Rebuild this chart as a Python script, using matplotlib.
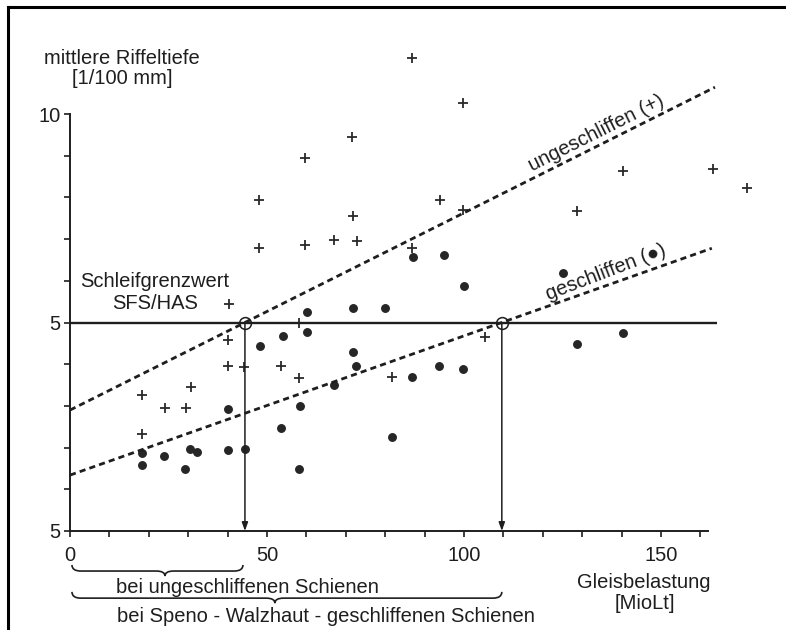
import matplotlib
matplotlib.use("Agg")
import matplotlib.pyplot as plt
from matplotlib.path import Path
from matplotlib.patches import PathPatch
from matplotlib.lines import Line2D
import matplotlib.transforms as mtransforms

# ---------------- data ----------------
# ungeschliffen (+)
plus_x = [86.8, 99.7, 71.6, 59.6, 48.0, 93.9, 99.7, 71.8, 48.0, 59.6, 67.0, 72.8,
          86.8, 140.4, 163.2, 171.8, 128.7, 40.4, 40.1, 40.1, 44.2, 30.7, 18.3,
          24.1, 29.4, 18.3, 58.1, 53.6, 58.1, 81.7, 105.3]
plus_y = [11.34, 10.26, 9.45, 8.94, 7.94, 7.94, 7.70, 7.55, 6.79, 6.86, 6.98, 6.95,
          6.79, 8.63, 8.68, 8.23, 7.67, 5.44, 4.58, 3.96, 3.93, 3.45, 3.26,
          2.95, 2.95, 2.33, 4.99, 3.96, 3.67, 3.69, 4.65]
# geschliffen (•)
dot_x = [48.2, 54.1, 60.2, 71.8, 72.6, 67.0, 58.4, 53.6, 81.7, 58.1, 40.1, 18.3,
         18.3, 23.9, 30.5, 32.2, 40.1, 44.4, 29.2, 87.1, 94.9, 100.0, 60.2, 71.8,
         79.9, 86.8, 93.7, 99.7, 125.1, 128.7, 140.4]
dot_y = [4.44, 4.68, 4.77, 4.29, 3.96, 3.50, 3.00, 2.47, 2.25, 1.49, 2.93, 1.87,
         1.58, 1.80, 1.97, 1.89, 1.94, 1.97, 1.49, 6.57, 6.62, 5.88, 5.25, 5.35,
         5.35, 3.69, 3.96, 3.88, 6.19, 4.48, 4.75]

# trend lines: intercept at x=0, x where they reach the limit value, x end
limit_value = 5.0
trend_unground = dict(y0=2.90, x_cross=44.4, x_end=163.7)
trend_ground = dict(y0=1.34, x_cross=109.6, x_end=162.9)
limit_x_end = 164.2

xticks_major = [0, 50, 100, 150]
xtick_labels = ["0", "50", "100", "150"]
yticks_major = [0, 5, 10]
ytick_labels = ["5", "5", "10"]

# ---------------- figure ----------------
W, H = 786, 630
fig = plt.figure(figsize=(W / 100, H / 100), dpi=100)
fig.patch.set_facecolor("white")
plt.rcParams["font.family"] = ["Liberation Sans", "DejaVu Sans"]

INK = "#1e1e1e"
FS = 14.5

px_x0, px_y0 = 70, 531          # pixel of data origin
ux, uy = 3.94, 41.7             # pixels per data unit
xmax, ymax = 162, 10
ax = fig.add_axes([px_x0 / W, (H - px_y0) / H, xmax * ux / W, ymax * uy / H])
ax.set_xlim(0, xmax)
ax.set_ylim(0, ymax)
ax.set_facecolor("none")
for s in ["top", "right"]:
    ax.spines[s].set_visible(False)
for s in ["left", "bottom"]:
    ax.spines[s].set_linewidth(1.4)
    ax.spines[s].set_color(INK)

ax.set_xticks(xticks_major)
ax.set_xticklabels(xtick_labels)
ax.set_xticks(range(0, 161, 10), minor=True)
ax.set_yticks(yticks_major)
ax.set_yticklabels(ytick_labels)
ax.set_yticks(range(0, 11), minor=True)
ax.tick_params(axis="x", which="both", direction="out", length=4, width=1.2,
               color=INK, pad=7, labelsize=FS, labelcolor=INK)
ax.tick_params(axis="y", which="both", direction="out", length=4, width=1.2,
               color=INK, pad=3, labelsize=FS, labelcolor=INK)

# points
ax.plot(plus_x, plus_y, linestyle="none", marker="+", markersize=6.5,
        markeredgewidth=1.3, color="#2a2a2a", clip_on=False)
ax.plot(dot_x, dot_y, linestyle="none", marker="o", markersize=5.4,
        color="#262626", clip_on=False)

# limit line
ax.plot([0, limit_x_end], [limit_value, limit_value], color=INK, lw=1.7,
        solid_capstyle="butt", clip_on=False)

# trend lines
dash = (0, (2.2, 1.5))
for tr in (trend_unground, trend_ground):
    slope = (limit_value - tr["y0"]) / tr["x_cross"]
    ax.plot([0, tr["x_end"]], [tr["y0"], tr["y0"] + slope * tr["x_end"]],
            color=INK, lw=2.0, linestyle=dash, clip_on=False)
    # vertical arrow down to axis
    ax.annotate("", xy=(tr["x_cross"], 0), xytext=(tr["x_cross"], limit_value),
                arrowprops=dict(arrowstyle="-|>,head_length=0.5,head_width=0.18",
                                color=INK, lw=1.1, shrinkA=0, shrinkB=0))
    ax.plot([tr["x_cross"]], [limit_value], marker="o", markersize=8.5,
            markerfacecolor="none", markeredgecolor=INK, markeredgewidth=1.1,
            clip_on=False)


def brace(x0, x1, xm, ytop, ymid, ytip, r=2.2):
    verts = [(x0, ytop), (x0, ymid), (x0 + r, ymid),
             (xm - r, ymid), (xm, ymid), (xm, ytip),
             (xm, ymid), (xm + r, ymid),
             (x1 - r, ymid), (x1, ymid), (x1, ytop)]
    codes = [Path.MOVETO, Path.CURVE3, Path.CURVE3,
             Path.LINETO, Path.CURVE3, Path.CURVE3,
             Path.CURVE3, Path.CURVE3,
             Path.LINETO, Path.CURVE3, Path.CURVE3]
    ax.add_patch(PathPatch(Path(verts, codes), fill=False, edgecolor=INK,
                           lw=1.2, clip_on=False))


brace(0.5, 43.9, 24.1, -0.815, -0.96, -1.08)
brace(0.5, 109.6, 52.0, -1.46, -1.61, -1.73)

# ---------------- texts ----------------
pxT = mtransforms.Affine2D().scale(1 / W, -1 / H).translate(0, 1) + fig.transFigure


def ptext(x, y, s, **kw):
    kw.setdefault("ha", "center")
    kw.setdefault("va", "baseline")
    fig.text(x, y, s, transform=pxT, fontsize=FS, color=INK, **kw)


ptext(122, 64, "mittlere Riffeltiefe")
ptext(122, 84, "[1/100 mm]")
ptext(155, 287, "Schleifgrenzwert")
ptext(155, 309, "SFS/HAS")
ptext(644, 588, "Gleisbelastung")
ptext(645, 609, "[MioLt]")
ptext(247, 593, "bei ungeschliffenen Schienen")
ptext(326, 622, "bei Speno - Walzhaut - geschliffenen Schienen")

ax.text(133.5, 9.54, "ungeschliffen (+)", rotation=26.6, rotation_mode="anchor",
        ha="center", va="center", fontsize=FS, color=INK)
ax.text(136.0, 6.21, "geschliffen (\u25cf)", rotation=21, rotation_mode="anchor",
        ha="center", va="center", fontsize=FS, color=INK,
        family=["Liberation Sans", "DejaVu Sans"])

# figure border (partially cut off at right and bottom)
fig.add_artist(Line2D([8 / W, 1.01], [1 - 7 / H, 1 - 7 / H], transform=fig.transFigure,
                      color="black", lw=2.2))
fig.add_artist(Line2D([8 / W, 8 / W], [1 - 7 / H, -0.01], transform=fig.transFigure,
                      color="black", lw=2.2))

fig.savefig("out.png", dpi=100)
